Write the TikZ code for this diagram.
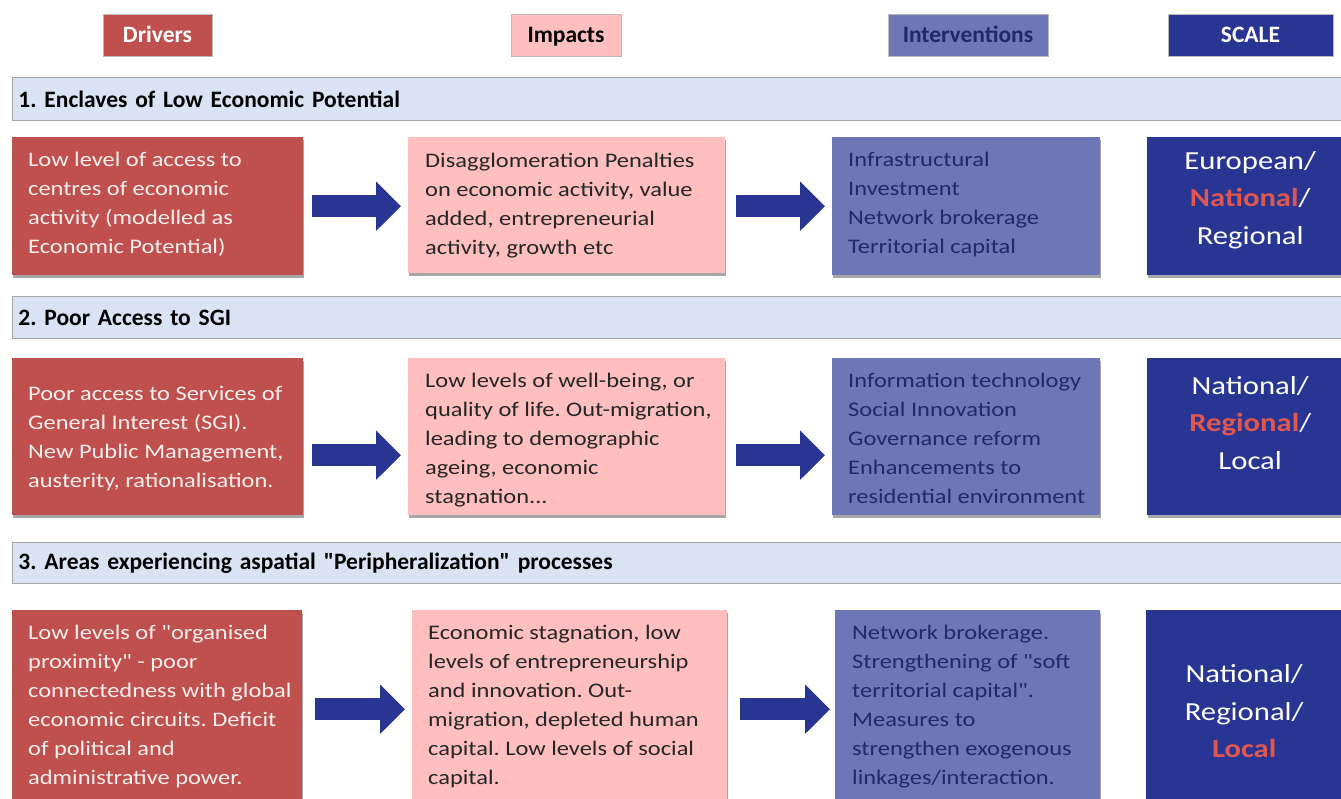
\documentclass[tikz,border=0pt]{standalone}
\usepackage{fontspec}
\setmainfont{Carlito}[Ligatures=TeXOff]
\newfontfamily\bodyf{Carlito}[FakeStretch=1.18]
\usetikzlibrary{arrows.meta,shadows}
\definecolor{drv}{HTML}{C0504D}
\definecolor{imp}{HTML}{FFBFBF}
\definecolor{itv}{HTML}{6D77B8}
\definecolor{scl}{HTML}{283593}
\definecolor{bandfill}{HTML}{DAE3F3}
\definecolor{bandline}{HTML}{A6A6A6}
\definecolor{arr}{HTML}{283593}
\definecolor{hl}{HTML}{E0574F}
\definecolor{itvtext}{HTML}{1F2A66}
\definecolor{imptext}{HTML}{262626}
\definecolor{drvtext}{HTML}{F7EFEE}
\frenchspacing
\begin{document}
\begin{tikzpicture}[x=1pt,y=-1pt,
  shade/.style={drop shadow={shadow xshift=1pt,shadow yshift=-3pt,opacity=0.35,fill=black}},
  cbox/.style={anchor=north west, inner sep=0pt, shade},
  drvbox/.style={cbox, fill=drv},
  impbox/.style={cbox, fill=imp},
  itvbox/.style={cbox, fill=itv},
  sclbox/.style={cbox, fill=scl},
  txt/.style={anchor=west, inner sep=0pt, align=left, font=\bodyf\fontsize{20.7}{29}\selectfont},
  dtxt/.style={txt, text=drvtext},
  itxt/.style={txt, text=imptext},
  vtxt/.style={txt, text=itvtext},
  stxt/.style={inner sep=0pt, align=center, text=white, font=\bodyf\fontsize{26}{37.5}\selectfont},
  bandbox/.style={anchor=north west, minimum width=1345pt, minimum height=43pt, text width=1333pt, inner xsep=6pt, inner ysep=0pt, align=left, fill=bandfill, draw=bandline, line width=0.8pt, font=\bfseries\fontsize{23.5}{28}\selectfont},
  hdr/.style={minimum height=42pt, inner sep=0pt, text height=18pt, text depth=3pt, draw=gray!55, line width=0.8pt, font=\bfseries\fontsize{23.5}{28}\selectfont},
  bigarr/.style={draw=arr, line width=22pt, -{Triangle[length=25pt 0,width=48pt 0]}}
]
\useasboundingbox (0,0) rectangle (1341,798);
\fill[white] (0,0) rectangle (1341,798);
\clip (0,0) rectangle (1341,798);

% headers
\node[hdr, fill=drv, text=white, minimum width=109pt] (hd) at (157.5,35) {Drivers};
\node[hdr, fill=imp, text=black, minimum width=110pt] (hi) at (566,35) {Impacts};
\node[hdr, fill=itv, text=itvtext, minimum width=160pt] (hv) at (968,35) {Interventions};
\node[hdr, fill=scl, text=white, minimum width=165pt] (hs) at (1250.5,35) {SCALE};

% bands
\node[bandbox] (b1) at (12,77) {1. Enclaves of Low Economic Potential};
\node[bandbox, minimum height=42pt] (b2) at (12,296) {2. Poor Access to SGI};
\node[bandbox, minimum height=41pt] (b3) at (12,542) {3. Areas experiencing aspatial "Peripheralization" processes};

% row 1
\node[drvbox, minimum width=291pt, minimum height=138pt] (d1) at (12,137) {};
\node[impbox, minimum width=317pt, minimum height=136pt] (i1) at (408,137) {};
\node[itvbox, minimum width=268pt, minimum height=138pt] (v1) at (832,137) {};
\node[sclbox, minimum width=206pt, minimum height=138pt] (s1) at (1147,137) {};
\node[dtxt] (d1t) at ([xshift=16pt,yshift=2pt]d1.west) {Low level of access to\\centres of economic\\activity (modelled as\\Economic Potential)};
\node[itxt] (i1t) at ([xshift=17pt]i1.west) {Disagglomeration Penalties\\on economic activity, value\\added, entrepreneurial\\activity, growth etc};
\node[vtxt] (v1t) at ([xshift=16pt,yshift=2pt]v1.west) {Infrastructural\\Investment\\Network brokerage\\Territorial capital};
\node[stxt] (s1t) at ([yshift=6pt]s1.center) {European/\\{\color{hl}\bfseries National}/\\Regional};
\draw[bigarr] ([xshift=9pt]d1.east) -- ([xshift=-7pt,yshift=-1pt]i1.west);
\draw[bigarr] ([xshift=11pt,yshift=-1pt]i1.east) -- ([xshift=-7pt]v1.west);

% row 2
\node[drvbox, minimum width=291pt, minimum height=157pt] (d2) at (12,358) {};
\node[impbox, minimum width=317pt, minimum height=157pt] (i2) at (408,358) {};
\node[itvbox, minimum width=268pt, minimum height=157pt] (v2) at (832,358) {};
\node[sclbox, minimum width=206pt, minimum height=157pt] (s2) at (1147,358) {};
\node[dtxt] (d2t) at ([xshift=16pt,yshift=-2pt]d2.west) {Poor access to Services of\\General Interest (SGI).\\New Public Management,\\austerity, rationalisation.};
\node[itxt] (i2t) at ([xshift=17pt,yshift=-3pt]i2.west) {Low levels of well-being, or\\quality of life. Out-migration,\\leading to demographic\\ageing, economic\\stagnation...};
\node[vtxt] (v2t) at ([xshift=16pt,yshift=-2pt]v2.west) {Information technology\\Social Innovation\\Governance reform\\Enhancements to\\residential environment};
\node[stxt] (s2t) at ([yshift=14pt]s2.center) {National/\\{\color{hl}\bfseries Regional}/\\Local};
\draw[bigarr] ([xshift=9pt,yshift=-18.5pt]d2.east) -- ([xshift=-7pt,yshift=-18.5pt]i2.west);
\draw[bigarr] ([xshift=11pt,yshift=-18.5pt]i2.east) -- ([xshift=-7pt,yshift=-18.5pt]v2.west);

% row 3
\node[drvbox, minimum width=290pt, minimum height=192pt] (d3) at (12,610) {};
\node[impbox, minimum width=315pt, minimum height=192pt] (i3) at (412,610) {};
\node[itvbox, minimum width=265pt, minimum height=192pt] (v3) at (835,610) {};
\node[sclbox, minimum width=206pt, minimum height=192pt] (s3) at (1146,610) {};
\node[dtxt] (d3t) at ([xshift=16pt]d3.west) {Low levels of "organised\\proximity" - poor\\connectedness with global\\economic circuits. Deficit\\of political and\\administrative power.};
\node[itxt] (i3t) at ([xshift=16pt]i3.west) {Economic stagnation, low\\levels of entrepreneurship\\and innovation. Out-\\migration, depleted human\\capital. Low levels of social\\capital.};
\node[vtxt] (v3t) at ([xshift=17pt]v3.west) {Network brokerage.\\Strengthening of "soft\\territorial capital".\\Measures to\\strengthen exogenous\\linkages/interaction.};
\node[stxt] (s3t) at ([xshift=-5pt,yshift=-5pt]s3.center) {National/\\Regional/\\{\color{hl}\bfseries Local}};
\draw[bigarr] ([xshift=13pt,yshift=-3pt]d3.east) -- ([xshift=-7pt,yshift=-3pt]i3.west);
\draw[bigarr] ([xshift=13pt,yshift=-3pt]i3.east) -- ([xshift=-5pt,yshift=-3pt]v3.west);
\end{tikzpicture}
\end{document}
